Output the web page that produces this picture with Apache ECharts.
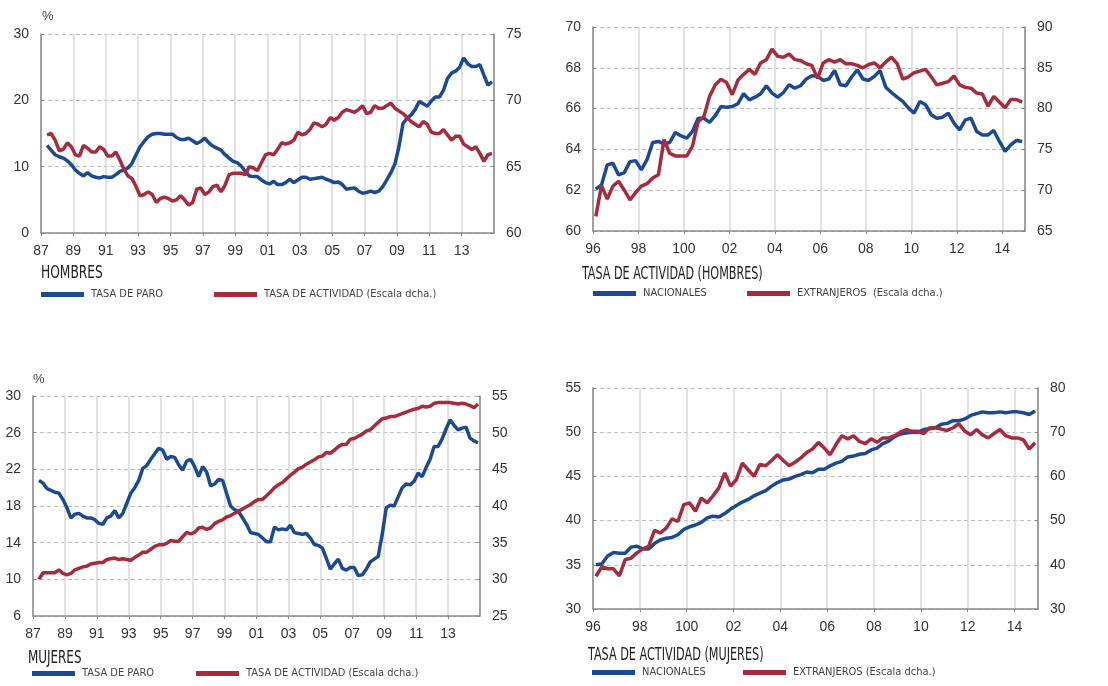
<!DOCTYPE html>
<html>
<head>
<meta charset="utf-8">
<script src="https://cdn.jsdelivr.net/npm/echarts@6.0.0/dist/echarts.min.js"></script>
<style>
  html, body { margin: 0; padding: 0; background: #fff; }
  #chart { width: 1108px; height: 686px; }
</style>
</head>
<body>
<div id="chart"></div>
<script>
// --- datos trimestrales ---
// Hombres / Mujeres: 1987T2 - 2014T4 ; Nacionales / Extranjeros: 1996T1 - 2014T4
const PARO_START = [1987, 2];
const NAC_START = [1996, 1];

const hombresParo = [
  13.2, 12.5, 11.8,
  11.5, 11.3, 10.9, 10.3,
  9.5, 9.0, 8.6, 9.1,
  8.6, 8.4, 8.3, 8.5,
  8.4, 8.4, 8.8, 9.3,
  9.5, 9.8, 10.5, 11.8,
  13.0, 13.8, 14.5, 14.9,
  15.0, 15.0, 14.9, 14.9,
  14.9, 14.4, 14.1, 14.1,
  14.3, 13.9, 13.5, 13.8,
  14.3, 13.6, 13.1, 12.8,
  12.5, 11.8, 11.3, 10.8,
  10.6, 10.1, 9.3, 8.6,
  8.5, 8.5, 8.0, 7.6,
  7.4, 7.8, 7.3, 7.3,
  7.6, 8.1, 7.6, 8.0,
  8.4, 8.4, 8.1, 8.2,
  8.3, 8.4, 8.1, 7.9,
  7.6, 7.7, 7.3, 6.6,
  6.7, 6.8, 6.3, 6.0,
  6.1, 6.3, 6.1, 6.3,
  7.0, 8.0, 9.1, 10.4,
  13.0, 16.5, 17.3, 17.8,
  18.6, 19.8, 19.5, 19.1,
  19.9, 20.5, 20.5, 21.5,
  23.3, 24.1, 24.4, 25.0,
  26.4, 25.5, 25.1, 25.1,
  25.4, 23.8, 22.3, 22.8
];
const hombresActividad = [
  67.4, 67.5, 67.0,
  66.2, 66.3, 66.8, 66.5,
  65.9, 65.8, 66.6, 66.4,
  66.1, 66.1, 66.5, 66.3,
  65.8, 65.8, 66.1, 65.5,
  64.8, 64.3, 64.1, 63.5,
  62.8, 62.9, 63.1, 62.9,
  62.3, 62.6, 62.7, 62.6,
  62.4, 62.5, 62.8, 62.5,
  62.1, 62.3, 63.3, 63.4,
  62.9, 63.1, 63.5, 63.6,
  63.1, 63.6, 64.4, 64.5,
  64.5, 64.5, 64.4, 65.0,
  64.9, 64.7, 65.3, 65.9,
  66.0, 65.9, 66.3, 66.8,
  66.7, 66.8, 67.0, 67.6,
  67.4, 67.5, 67.8, 68.3,
  68.2, 68.0, 68.2, 68.7,
  68.5, 68.7, 69.1, 69.3,
  69.2, 69.1, 69.3, 69.6,
  69.0, 69.1, 69.6, 69.4,
  69.4, 69.6, 69.8, 69.4,
  69.2, 69.0, 68.7, 68.4,
  68.2, 68.0, 68.4, 68.2,
  67.6, 67.5, 67.5, 67.8,
  67.4, 67.0, 67.3, 67.3,
  66.7, 66.5, 66.3, 66.5,
  66.0, 65.4, 65.9, 66.0
];
const nacionalesHombres = [
  62.05, 62.26, 63.24, 63.32,
  62.75, 62.86, 63.40, 63.45,
  63.00, 63.50, 64.34, 64.39,
  64.27, 64.34, 64.83, 64.66,
  64.55, 64.88, 65.53, 65.53,
  65.32, 65.65, 66.10, 66.07,
  66.10, 66.24, 66.73, 66.43,
  66.56, 66.73, 67.12, 66.76,
  66.56, 66.79, 67.17, 67.00,
  67.12, 67.45, 67.61, 67.58,
  67.38, 67.45, 67.87, 67.17,
  67.12, 67.55, 67.90, 67.45,
  67.38, 67.58, 67.87, 67.05,
  66.79, 66.56, 66.35, 66.02,
  65.78, 66.35, 66.19, 65.70,
  65.53, 65.58, 65.78, 65.29,
  64.96, 65.45, 65.53, 64.88,
  64.71, 64.71, 64.93, 64.39,
  63.90, 64.22, 64.44, 64.39
];
const extranjerosHombres = [
  66.8, 70.6, 68.9, 70.5,
  71.1, 70.0, 68.8, 69.7,
  70.5, 70.8, 71.5, 71.9,
  76.2, 74.5, 74.2, 74.2,
  74.2, 75.4, 78.4, 79.0,
  81.5, 82.9, 83.6, 83.2,
  81.7, 83.5, 84.2, 84.8,
  84.2, 85.6, 86.0, 87.3,
  86.4, 86.3, 86.7, 86.0,
  85.9, 85.5, 85.3, 83.7,
  85.6, 86.0, 85.7, 86.0,
  85.5, 85.5, 85.3, 85.0,
  85.4, 85.6, 85.0, 85.7,
  86.3, 85.5, 83.6, 83.9,
  84.4, 84.6, 84.8, 83.9,
  82.9, 83.1, 83.3, 84.0,
  82.9, 82.6, 82.5, 81.9,
  81.8, 80.3, 81.5, 80.8,
  80.1, 81.1, 81.1, 80.8
];
const mujeresParo = [
  20.8, 20.5, 19.9,
  19.7, 19.5, 19.4, 18.7,
  17.8, 16.7, 17.1, 17.2,
  16.9, 16.7, 16.7, 16.5,
  16.1, 16.0, 16.7, 16.9,
  17.5, 16.7, 17.2, 18.3,
  19.4, 20.0, 20.8, 22.1,
  22.4, 23.1, 23.7, 24.3,
  24.1, 23.1, 23.4, 23.3,
  22.5, 21.9, 22.9, 23.1,
  22.3, 21.2, 22.3, 21.7,
  20.2, 20.4, 20.9, 20.8,
  19.4, 18.0, 17.6, 17.4,
  16.7, 16.0, 15.1, 15.0,
  14.9, 14.5, 14.1, 14.1,
  15.7, 15.4, 15.5, 15.4,
  15.9, 15.1, 15.0, 14.9,
  15.0, 14.5, 13.8, 13.7,
  13.4, 12.3, 11.1, 11.7,
  12.2, 11.2, 11.0, 11.3,
  11.3, 10.4, 10.5, 11.1,
  11.9, 12.2, 12.5, 14.9,
  17.8, 18.1, 18.0, 19.0,
  20.0, 20.4, 20.3, 20.7,
  21.6, 21.2, 22.2, 23.1,
  24.5, 24.5, 25.3, 26.4,
  27.4, 26.8, 26.3, 26.5,
  26.6, 25.4, 25.1, 24.9
];
const mujeresActividad = [
  30.0, 30.9, 30.9,
  30.9, 30.9, 31.3, 30.8,
  30.6, 30.8, 31.3, 31.5,
  31.7, 31.8, 32.1, 32.2,
  32.3, 32.3, 32.7, 32.8,
  32.9, 32.7, 32.8, 32.7,
  32.6, 33.0, 33.3, 33.7,
  33.7, 34.1, 34.5, 34.7,
  34.7, 34.9, 35.3, 35.2,
  35.2, 35.8, 36.4, 36.2,
  36.4, 37.0, 37.1, 36.8,
  37.0, 37.6, 37.9, 38.1,
  38.5, 38.7, 39.0, 39.3,
  39.6, 39.9, 40.2, 40.6,
  40.9, 40.9, 41.4, 41.9,
  42.5, 42.9, 43.2, 43.7,
  44.2, 44.6, 45.1, 45.3,
  45.7, 46.0, 46.3, 46.7,
  46.8, 47.3, 47.2, 47.6,
  48.1, 48.4, 48.4, 49.1,
  49.2, 49.5, 49.8, 50.2,
  50.4, 50.9, 51.4, 51.9,
  52.0, 52.2, 52.2, 52.4,
  52.6, 52.8, 53.0, 53.2,
  53.3, 53.6, 53.5, 53.6,
  54.0, 54.1, 54.1, 54.1,
  54.1, 54.0, 53.9, 54.0,
  53.9, 53.7, 53.4, 53.9
];
const nacionalesMujeres = [
  35.0, 35.1, 36.0, 36.4,
  36.3, 36.3, 37.0, 37.1,
  36.8, 36.8, 37.4, 37.8,
  38.0, 38.1, 38.4, 39.0,
  39.3, 39.5, 39.8, 40.3,
  40.5, 40.4, 40.8, 41.3,
  41.7, 42.1, 42.4, 42.8,
  43.1, 43.4, 43.9, 44.3,
  44.6, 44.7, 45.0, 45.2,
  45.5, 45.4, 45.8, 45.8,
  46.2, 46.5, 46.7, 47.2,
  47.3, 47.5, 47.6, 48.0,
  48.2, 48.7, 49.0, 49.5,
  49.8, 49.9, 50.0, 50.0,
  50.3, 50.4, 50.5, 50.9,
  51.0, 51.3, 51.3, 51.5,
  51.9, 52.1, 52.3, 52.2,
  52.2, 52.3, 52.2, 52.3,
  52.3, 52.2, 52.0, 52.4
];
const extranjerosMujeres = [
  37.4, 39.5, 39.1, 39.1,
  37.5, 41.2, 41.5, 42.7,
  43.6, 44.2, 47.8, 47.2,
  48.3, 50.4, 49.8, 53.6,
  54.0, 52.1, 55.1, 54.0,
  55.6, 57.4, 60.8, 57.8,
  59.3, 63.0, 61.5, 60.0,
  62.7, 62.4, 63.6, 64.9,
  63.6, 62.4, 63.2, 64.2,
  65.4, 66.2, 67.7, 66.4,
  64.9, 67.2, 69.2, 68.5,
  69.2, 67.9, 67.4, 68.5,
  67.7, 68.7, 68.7, 69.2,
  70.0, 70.6, 70.2, 70.2,
  69.7, 71.0, 71.0, 70.7,
  70.4, 71.0, 71.9, 70.2,
  69.4, 70.6, 69.4, 68.7,
  69.7, 70.6, 69.2, 68.7,
  68.7, 68.3, 66.2, 67.6
];

// --- estilos ---
const BLUE = "#1c4a92";
const RED = "#a62b3e";
const NUM_FONT = "'Liberation Sans', Arial, sans-serif";
const NARROW_FONT = "'Liberation Sans Narrow', 'DejaVu Sans Condensed', 'Liberation Sans', sans-serif";

function quarterly(start, values) {
  return values.map((v, i) => [start[0] + (start[1] - 1 + i) / 4 + 0.125, v]);
}

function yearLabel(v) {
  const y = Math.round(v);
  return y === 2000 ? "100" : String(y % 100).padStart(2, "0");
}

const panels = [
  { grid: { left: 41, top: 34, width: 453, height: 199 }, x: [1987, 2015], yl: [0, 30, 10], yr: [60, 75, 5] },
  { grid: { left: 593, top: 27, width: 432, height: 204 }, x: [1996, 2015], yl: [60, 70, 2], yr: [65, 90, 5] },
  { grid: { left: 33, top: 396, width: 447, height: 220 }, x: [1987, 2015], yl: [6, 30, 4], yr: [25, 55, 5] },
  { grid: { left: 593, top: 388, width: 445, height: 221 }, x: [1996, 2015], yl: [30, 55, 5], yr: [30, 80, 10] },
];

const axisLine = { show: true, lineStyle: { color: "#8a8a8a", width: 1.5 } };
const tickLabel = { color: "#333", fontSize: 14, fontFamily: NUM_FONT };

const xAxis = panels.map((p, i) => ({
  type: "value",
  gridIndex: i,
  min: p.x[0],
  max: p.x[1],
  interval: 2,
  axisLine: axisLine,
  axisTick: { show: true, length: 3, lineStyle: { color: "#8a8a8a" } },
  axisLabel: { ...tickLabel, margin: 11, showMaxLabel: false, formatter: yearLabel },
  splitLine: { show: true, lineStyle: { color: "#d8d8d8", width: 1.5 } },
}));

const yAxis = [];
panels.forEach((p, i) => {
  yAxis.push({
    type: "value",
    gridIndex: i,
    position: "left",
    min: p.yl[0],
    max: p.yl[1],
    interval: p.yl[2],
    axisLine: axisLine,
    axisTick: { show: true, length: 3, inside: true, lineStyle: { color: "#8a8a8a" } },
    axisLabel: { ...tickLabel, margin: 12 },
    splitLine: { show: true, lineStyle: { color: "#bdbdbd", type: [4, 3], width: 1 } },
  });
  yAxis.push({
    type: "value",
    gridIndex: i,
    position: "right",
    min: p.yr[0],
    max: p.yr[1],
    interval: p.yr[2],
    axisLine: axisLine,
    axisTick: { show: true, length: 3, inside: true, lineStyle: { color: "#8a8a8a" } },
    axisLabel: { ...tickLabel, margin: 12 },
    splitLine: { show: false },
  });
});

function line(name, color, data, panel, right) {
  return {
    name: name,
    type: "line",
    xAxisIndex: panel,
    yAxisIndex: panel * 2 + (right ? 1 : 0),
    data: data,
    showSymbol: false,
    lineStyle: { color: color, width: 3.5 },
    itemStyle: { color: color },
    emphasis: { disabled: true },
  };
}

const series = [
  line("TASA DE PARO", BLUE, quarterly(PARO_START, hombresParo), 0, false),
  line("TASA DE ACTIVIDAD (Escala dcha.)", RED, quarterly(PARO_START, hombresActividad), 0, true),
  line("NACIONALES", BLUE, quarterly(NAC_START, nacionalesHombres), 1, false),
  line("EXTRANJEROS  (Escala dcha.)", RED, quarterly(NAC_START, extranjerosHombres), 1, true),
  line("TASA DE PARO ", BLUE, quarterly(PARO_START, mujeresParo), 2, false),
  line("TASA DE ACTIVIDAD (Escala dcha.) ", RED, quarterly(PARO_START, mujeresActividad), 2, true),
  line("NACIONALES ", BLUE, quarterly(NAC_START, nacionalesMujeres), 3, false),
  line("EXTRANJEROS (Escala dcha.)", RED, quarterly(NAC_START, extranjerosMujeres), 3, true),
];

function legendAt(name, left, centerY) {
  return {
    data: [name],
    left: left,
    top: centerY - 7,
    padding: 0,
    icon: "rect",
    itemWidth: 43,
    itemHeight: 5,
    selectedMode: false,
    textStyle: { color: "#444", fontSize: 11, fontFamily: NARROW_FONT, padding: [0, 0, 0, 2] },
  };
}

const legend = [
  legendAt(series[0].name, 41, 296),
  legendAt(series[1].name, 214, 296),
  legendAt(series[2].name, 593, 295),
  legendAt(series[3].name, 747, 295),
  legendAt(series[4].name, 32, 675),
  legendAt(series[5].name, 196, 675),
  legendAt(series[6].name, 592, 674),
  legendAt(series[7].name, 743, 674),
];

// "%" como títulos
function pct(left, top) {
  return {
    text: "%",
    left: left,
    top: top,
    padding: 0,
    textStyle: { color: "#444", fontSize: 13, fontWeight: "normal", fontFamily: NUM_FONT },
  };
}

// subtítulos con letra estrecha (escala horizontal)
function subtitle(text, x, y, scale) {
  return {
    type: "text",
    x: x,
    y: y,
    scaleX: scale,
    silent: true,
    style: {
      text: text,
      fill: "#222",
      font: "17px " + NARROW_FONT,
      verticalAlign: "middle",
    },
  };
}

const chart = echarts.init(document.getElementById("chart"));
chart.setOption({
  backgroundColor: "#fff",
  animation: false,
  title: [pct(42, 10), pct(33, 373)],
  legend: legend,
  graphic: [
    subtitle("HOMBRES", 41, 274, 0.8),
    subtitle("TASA DE ACTIVIDAD (HOMBRES)", 582, 275, 0.73),
    subtitle("MUJERES", 28, 659, 0.78),
    subtitle("TASA DE ACTIVIDAD (MUJERES)", 588, 656, 0.735),
  ],
  grid: panels.map((p) => p.grid),
  xAxis: xAxis,
  yAxis: yAxis,
  series: series,
});
</script>
</body>
</html>
